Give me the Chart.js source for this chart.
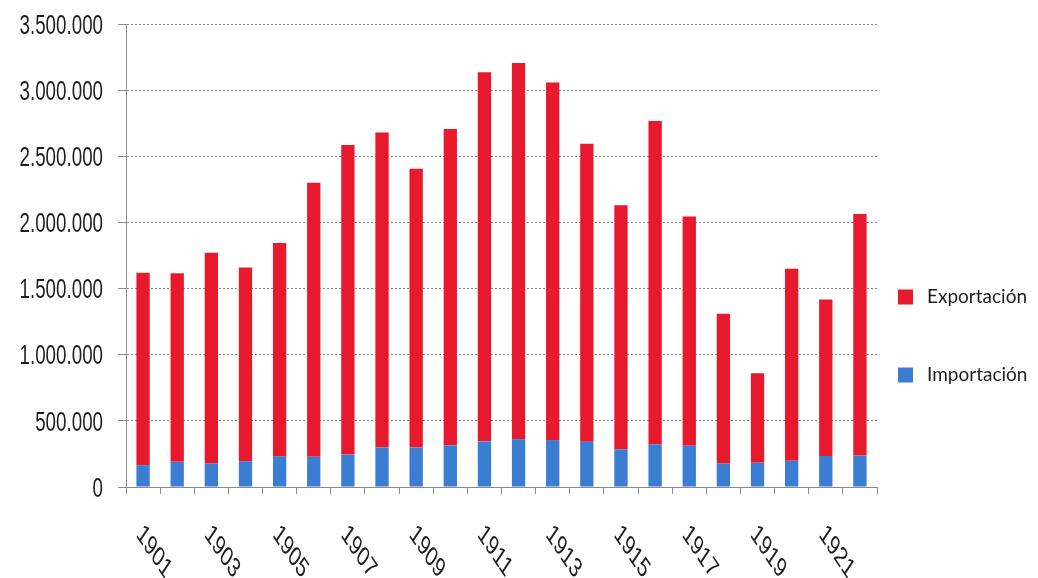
<!DOCTYPE html>
<html lang="es">
<head>
<meta charset="UTF-8">
<title>Exportación e importación 1901-1922</title>
<script src="https://cdn.jsdelivr.net/npm/chart.js"></script>
<style>
  html, body { margin: 0; padding: 0; background: #fff; }
  canvas { display: block; }
</style>
</head>
<body>
<canvas id="chart" width="1038" height="578"></canvas>
<script>
const years = ['1901', '1902', '1903', '1904', '1905', '1906', '1907', '1908', '1909', '1910', '1911',
               '1912', '1913', '1914', '1915', '1916', '1917', '1918', '1919', '1920', '1921', '1922'];
const importacion = [165000, 190000, 178000, 195000, 233000, 228000, 245000, 298000, 298000, 315000, 345000,
                     362000, 355000, 343000, 285000, 322000, 312000, 178000, 183000, 198000, 235000, 238000];
const exportacion = [1455000, 1425000, 1592000, 1465000, 1612000, 2072000, 2340000, 2382000, 2107000, 2391000, 2791000,
                     2843000, 2702000, 2252000, 1845000, 2445000, 1733000, 1132000, 677000, 1452000, 1183000, 1825000];
const yTicks = [0, 500000, 1000000, 1500000, 2000000, 2500000, 3000000, 3500000];
const xTickYears = ['1901', '1903', '1905', '1907', '1909', '1911', '1913', '1915', '1917', '1919', '1921'];

const squeeze = 0.67;   // the axis lettering is a condensed face
const textColor = '#1e1e1e';

function fmt(v) {
  return String(v).replace(/\B(?=(\d{3})+(?!\d))/g, '.');
}

// axis lettering and legend, drawn from the scales
const lettering = {
  id: 'lettering',
  afterDraw(chart) {
    const { ctx, chartArea, scales: { x, y } } = chart;
    ctx.save();
    ctx.fillStyle = textColor;
    ctx.font = '28px "Liberation Sans", Arial, sans-serif';
    ctx.textBaseline = 'middle';

    ctx.textAlign = 'right';
    y.ticks.forEach(t => {
      ctx.save();
      ctx.translate(chartArea.left - 23, y.getPixelForValue(t.value) + 2);
      ctx.scale(squeeze, 1);
      ctx.fillText(fmt(t.value), 0, 0);
      ctx.restore();
    });

    ctx.textAlign = 'left';
    xTickYears.forEach(yr => {
      ctx.save();
      ctx.translate(x.getPixelForValue(years.indexOf(yr)) - 4, chartArea.bottom + 43);
      ctx.scale(squeeze, 1);
      ctx.rotate(Math.PI / 4);
      ctx.fillText(yr, 0, 0);
      ctx.restore();
    });

    ctx.font = '19px Lato, "Open Sans", sans-serif';
    const items = chart.data.datasets.slice().reverse();
    items.forEach((ds, k) => {
      const cy = chartArea.top + 273 + k * 78;
      ctx.fillStyle = ds.backgroundColor;
      ctx.fillRect(chartArea.right + 21, cy - 7.5, 15, 15);
      ctx.fillStyle = textColor;
      ctx.fillText(ds.label, chartArea.right + 50, cy);
    });
    ctx.restore();
  }
};

new Chart(document.getElementById('chart'), {
  type: 'bar',
  data: {
    labels: years,
    datasets: [
      { label: 'Importación', data: importacion, backgroundColor: '#3a7dd2' },
      { label: 'Exportación', data: exportacion, backgroundColor: '#e8192c' }
    ]
  },
  options: {
    responsive: false,
    animation: false,
    layout: { padding: { top: 24, right: 161, bottom: 0, left: 0 } },
    datasets: { bar: { barPercentage: 0.39, categoryPercentage: 1, borderWidth: 0 } },
    plugins: { legend: { display: false }, tooltip: { enabled: false } },
    scales: {
      x: {
        stacked: true,
        grid: { offset: true, drawOnChartArea: false, tickLength: 7, color: '#8a8a8a' },
        border: { color: '#8a8a8a' },
        ticks: { display: false },
        afterFit: s => { s.height = 91; }
      },
      y: {
        stacked: true,
        min: 0,
        max: 3500000,
        afterBuildTicks: s => { s.ticks = yTicks.map(v => ({ value: v })); },
        grid: { color: '#8a8a8a', tickLength: 8 },
        border: { color: '#8a8a8a', dash: [2, 2] },
        ticks: { display: false },
        afterFit: s => { s.width = 126; }
      }
    }
  },
  plugins: [lettering]
});
</script>
</body>
</html>
